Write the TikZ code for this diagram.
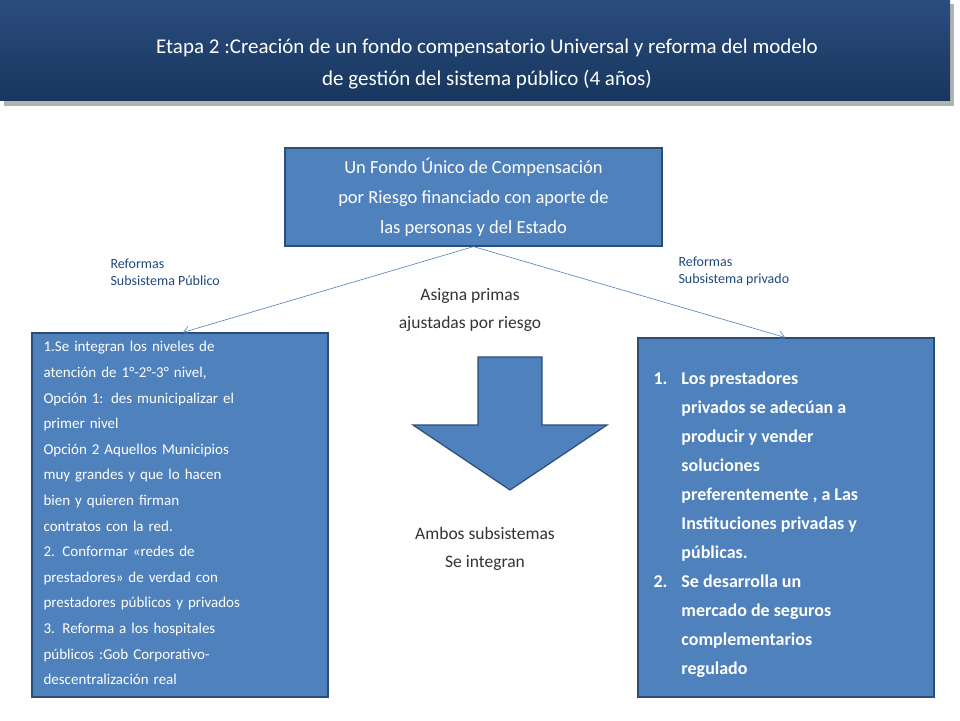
\documentclass[tikz,border=0pt]{standalone}
\usepackage{fontspec}
\setmainfont{Carlito}
\usetikzlibrary{arrows.meta,shadows}
\definecolor{boxblue}{HTML}{4F81BD}
\definecolor{boxedge}{HTML}{2C4D75}
\definecolor{bandtop}{HTML}{2B4C7E}
\definecolor{bandbot}{HTML}{17375E}
\definecolor{labelblue}{HTML}{1F497D}
\tikzset{
  bluebox/.style={draw=boxedge, line width=1.2pt, fill=boxblue, text=white, inner sep=0pt},
  sidelabel/.style={text=labelblue, font=\fontsize{14}{17}\selectfont, align=left, anchor=north west},
  midlabel/.style={text=black!80, font=\fontsize{17.5}{28}\selectfont, align=center},
  branch/.style={draw=boxblue, line width=0.6pt, -{Straight Barb[length=6pt,width=9pt]}},
}
\begin{document}
\begin{tikzpicture}[x=1pt,y=-1pt]
  \useasboundingbox (0,0) rectangle (960,720);
  \fill[white] (0,0) rectangle (960,720);

  % title band
  \fill[black!30] (4,4) rectangle (954,106);
  \shade[top color=bandtop, bottom color=bandbot] (0,0) rectangle (950,100);
  \node[text=white, align=center, font=\fontsize{21}{32}\selectfont] (title) at (487,64)
    {Etapa 2 :Creación de un fondo compensatorio Universal y reforma del modelo\\
     de gestión del sistema público (4 años)};

  % boxes
  \node[bluebox, minimum width=377, minimum height=98, align=center,
        font=\fontsize{18.5}{30}\selectfont] (fondo) at (473.5,197)
    {Un Fondo Único de Compensación\\por Riesgo financiado con aporte de\\las personas y del Estado};
  \node[bluebox, minimum width=296, minimum height=364] (publico) at (180,515) {};
  \node[bluebox, minimum width=296, minimum height=359] (privado) at (786,517.5) {};

  \node[text=white, anchor=north west, align=left, text width=290,
        font=\fontsize{15}{25.6}\selectfont] (ptext) at (40,338)
    {1.Se integran los niveles de\\atención de 1°-2°-3° nivel,\\Opción 1: des municipalizar el\\primer nivel\\
     Opción 2 Aquellos Municipios\\muy grandes y que lo hacen\\bien y quieren firman\\contratos con la red.\\
     2. Conformar «redes de\\prestadores» de verdad con\\prestadores públicos y privados\\
     3. Reforma a los hospitales\\públicos :Gob Corporativo-\\descentralización real};
  \node[text=white, anchor=north west, align=left,
        font=\bfseries\fontsize{18}{29}\selectfont] (rtext) at (650,361)
    {\begin{tabular}{@{}l@{\hspace{14pt}}l@{}}
     1. & Los prestadores\\ & privados se adecúan a\\ & producir y vender\\ & soluciones\\
        & preferentemente , a Las\\ & Instituciones privadas y\\ & públicas.\\
     2. & Se desarrolla un\\ & mercado de seguros\\ & complementarios\\ & regulado
     \end{tabular}};

  % connectors
  \draw[branch] (fondo.south) -- ([xshift=3]publico.north);
  \draw[branch] (fondo.south) -- ([xshift=-1]privado.north);

  % labels
  \node[sidelabel] (lref) at (107,255) {Reformas\\Subsistema Público};
  \node[sidelabel] (rref) at (675,253) {Reformas\\Subsistema privado};
  \node[midlabel] (asigna) at (470,310) {Asigna primas\\ajustadas por riesgo};
  \node[midlabel] (ambos) at (485,549) {Ambos subsistemas\\Se integran};

  % down arrow
  \draw[boxedge, line width=1.2pt, fill=boxblue]
    (478,357) -- (542,357) -- (542,425) -- (607,425) -- (510,490)
    -- (413,425) -- (478,425) -- cycle;
\end{tikzpicture}
\end{document}
